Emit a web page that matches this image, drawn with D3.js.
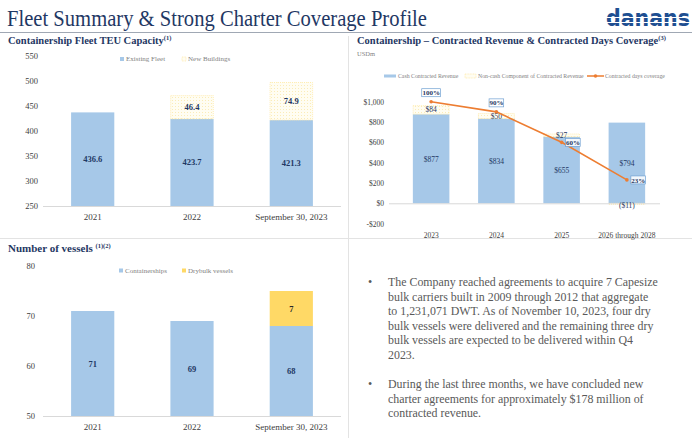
<!DOCTYPE html>
<html>
<head>
<meta charset="utf-8">
<script src="https://cdn.jsdelivr.net/npm/d3@7/dist/d3.min.js"></script>
<style>
  html, body { margin: 0; padding: 0; background: #ffffff; }
  svg { display: block; }
  text { font-family: "Liberation Serif", "DejaVu Serif", serif; }
</style>
</head>
<body>
<svg id="chart" width="700" height="438"></svg>
<script>
// ---------------- DATA ----------------
const teuCategories = ["2021", "2022", "September 30, 2023"];
const existingFleet = [436.6, 423.7, 421.3];
const newBuildings = [0, 46.4, 74.9];
const teuTicks = [250, 300, 350, 400, 450, 500, 550];

const revCategories = ["2023", "2024", "2025", "2026 through 2028"];
const cashRevenue = [877, 834, 655, 794];
const nonCashRevenue = [84, 50, 27, -11];
const daysCoverage = [100, 90, 60, 23];
const revTicks = [-200, 0, 200, 400, 600, 800, 1000];

const vesselCategories = ["2021", "2022", "September 30, 2023"];
const containerships = [71, 69, 68];
const drybulk = [0, 0, 7];
const vesselTicks = [50, 60, 70, 80];

const bullets = [
  ["The Company reached agreements to acquire 7 Capesize",
   "bulk carriers built in 2009 through 2012 that aggregate",
   "to 1,231,071 DWT. As of November 10, 2023, four dry",
   "bulk vessels were delivered and the remaining three dry",
   "bulk vessels are expected to be delivered within Q4",
   "2023."],
  ["During the last three months, we have concluded new",
   "charter agreements for approximately $178 million of",
   "contracted revenue."]
];

// ---------------- STYLE ----------------
const NAVY = "#1f3864";
const BLUE = "#a6c8e8";
const YELLOW = "#ffd966";
const ORANGE = "#ed7d31";
const GRID = "#d9d9d9";
const LABEL = "#404040";

const svg = d3.select("#chart");

const defs = svg.append("defs");
const pat = defs.append("pattern").attr("id", "dots").attr("patternUnits", "userSpaceOnUse")
  .attr("width", 3).attr("height", 3);
pat.append("rect").attr("width", 3).attr("height", 3).attr("fill", "#fffdf2");
pat.append("rect").attr("x", 1).attr("y", 1).attr("width", 1).attr("height", 1).attr("fill", "#fbecb8");

// striped logo gradient
const lgGrad = defs.append("linearGradient").attr("id", "logoStripes")
  .attr("gradientUnits", "userSpaceOnUse").attr("x1", 0).attr("x2", 0).attr("y1", 6).attr("y2", 28);
[[0, "#1f4e91"], [0.5, "#1f4e91"], [0.5, "#ffffff"], [0.56, "#ffffff"], [0.56, "#1f4e91"],
 [0.72, "#1f4e91"], [0.72, "#ffffff"], [0.76, "#ffffff"], [0.76, "#1f4e91"], [1, "#1f4e91"]]
  .forEach(s => lgGrad.append("stop").attr("offset", s[0]).attr("stop-color", s[1]));

// ---------------- HEADER ----------------
svg.append("text").attr("x", 7).attr("y", 26)
  .attr("font-size", 23).attr("fill", NAVY)
  .attr("textLength", 420).attr("lengthAdjust", "spacingAndGlyphs")
  .text("Fleet Summary & Strong Charter Coverage Profile");

svg.append("line").attr("x1", 0).attr("x2", 692).attr("y1", 32.5).attr("y2", 32.5)
  .attr("stroke", "#a0a8b4").attr("stroke-width", 1);

svg.append("text").attr("x", 606).attr("y", 26)
  .style("font-family", "'DejaVu Sans'").attr("font-weight", "bold")
  .attr("font-size", 23).attr("fill", "url(#logoStripes)")
  .attr("textLength", 84).attr("lengthAdjust", "spacingAndGlyphs")
  .text("danans");

// separators
svg.append("line").attr("x1", 348.5).attr("x2", 348.5).attr("y1", 36).attr("y2", 438)
  .attr("stroke", "#e3e3e3");
svg.append("line").attr("x1", 0).attr("x2", 692).attr("y1", 238.5).attr("y2", 238.5)
  .attr("stroke", "#e3e3e3");

function panelTitle(x, y, txt, sup, size) {
  const t = svg.append("text").attr("x", x).attr("y", y)
    .attr("font-size", size || 10.5).attr("font-weight", "bold").attr("fill", NAVY);
  t.append("tspan").text(txt);
  t.append("tspan").attr("font-size", 6.5).attr("dy", -4).text(sup);
}

function legendItem(g, x, y, kind, label, fontSize) {
  if (kind === "line") {
    g.append("line").attr("x1", x).attr("x2", x + 17).attr("y1", y).attr("y2", y)
      .attr("stroke", ORANGE).attr("stroke-width", 1.5);
    g.append("circle").attr("cx", x + 8.5).attr("cy", y).attr("r", 1.8).attr("fill", ORANGE);
    g.append("text").attr("x", x + 18).attr("y", y + fontSize * 0.35)
      .attr("font-size", fontSize).attr("fill", "#7f7f7f").text(label);
    return;
  }
  const w = kind.w, h = kind.h;
  g.append("rect").attr("x", x).attr("y", y - h / 2).attr("width", w).attr("height", h)
    .attr("fill", kind.fill).attr("stroke", kind.stroke || "none")
    .attr("stroke-dasharray", kind.dash || null).attr("stroke-width", 0.6);
  g.append("text").attr("x", x + w + 2).attr("y", y + fontSize * 0.35)
    .attr("font-size", fontSize).attr("fill", "#7f7f7f").text(label);
}

function styleAxis(g) {
  g.select(".domain").remove();
  g.selectAll(".tick line").remove();
  g.selectAll("text").attr("font-family", "Liberation Serif").attr("fill", LABEL);
}

// ---------------- CHART 1: TEU ----------------
panelTitle(8, 44, "Containership Fleet TEU Capacity", "(1)");
{
  const x = d3.scaleBand().domain(teuCategories).range([43, 341]).paddingInner(0.565).paddingOuter(0.283);
  const y = d3.scaleLinear().domain([250, 550]).range([206, 55.5]);
  const g = svg.append("g");

  g.append("g").attr("transform", "translate(38,0)")
    .call(d3.axisLeft(y).tickValues(teuTicks).tickSize(0).tickPadding(0))
    .call(styleAxis).selectAll("text").attr("font-size", 8.5);

  g.selectAll(".ex").data(existingFleet).join("rect")
    .attr("x", (d, i) => x(teuCategories[i])).attr("width", x.bandwidth())
    .attr("y", d => y(d)).attr("height", d => y(250) - y(d)).attr("fill", BLUE);

  newBuildings.forEach((d, i) => {
    if (d <= 0) return;
    g.append("rect")
      .attr("x", x(teuCategories[i]) + 0.3).attr("width", x.bandwidth() - 0.6)
      .attr("y", y(existingFleet[i] + d))
      .attr("height", y(existingFleet[i]) - y(existingFleet[i] + d))
      .attr("fill", "url(#dots)").attr("stroke", "#ffe699").attr("stroke-width", 0.7)
      .attr("stroke-dasharray", "1,1");
    g.append("text")
      .attr("x", x(teuCategories[i]) + x.bandwidth() / 2)
      .attr("y", (y(existingFleet[i]) + y(existingFleet[i] + d)) / 2 + 3)
      .attr("text-anchor", "middle").attr("font-size", 8.5).attr("font-weight", "bold").attr("fill", NAVY)
      .text(d.toFixed(1));
  });

  g.selectAll(".exl").data(existingFleet).join("text")
    .attr("x", (d, i) => x(teuCategories[i]) + x.bandwidth() / 2)
    .attr("y", d => (y(d) + y(250)) / 2 + 3)
    .attr("text-anchor", "middle").attr("font-size", 8.5).attr("font-weight", "bold").attr("fill", NAVY)
    .text(d => d.toFixed(1));

  const ax = g.append("g").attr("transform", "translate(0,206)")
    .call(d3.axisBottom(x).tickSize(0).tickPadding(8));
  ax.select(".domain").attr("stroke", GRID).attr("d", "M0,0.5H298").attr("transform", "translate(43,0)");
  ax.selectAll("text").attr("font-family", "Liberation Serif").attr("font-size", 9).attr("fill", LABEL);

  const lg = svg.append("g");
  legendItem(lg, 120, 59, { w: 4, h: 4, fill: BLUE }, "Existing Fleet", 7);
  legendItem(lg, 182, 59, { w: 4, h: 4, fill: "#fffdf2", stroke: "#ffe699", dash: "1,0.6" }, "New Buildings", 7);
}

// ---------------- CHART 2: Revenue ----------------
panelTitle(357, 44, "Containership \u2013 Contracted Revenue & Contracted Days Coverage", "(3)");
svg.append("text").attr("x", 357).attr("y", 56).attr("font-size", 6.5).attr("fill", "#7f7f7f").text("USDm");
{
  const x = d3.scaleBand().domain(revCategories).range([398.5, 659.5]).paddingInner(0.44).paddingOuter(0.22);
  const y = d3.scaleLinear().domain([-200, 1000]).range([223.6, 101.7]);
  const yPct = d3.scaleLinear().domain([0, 100]).range([y(0), y(1000)]);
  const g = svg.append("g");

  g.append("g").attr("transform", "translate(384,0)")
    .call(d3.axisLeft(y).tickValues(revTicks).tickSize(0).tickPadding(0)
      .tickFormat(d => (d < 0 ? "-$" : "$") + d3.format(",")(Math.abs(d))))
    .call(styleAxis).selectAll("text").attr("font-size", 7.5);

  const cx = i => x(revCategories[i]) + x.bandwidth() / 2;

  g.selectAll(".cash").data(cashRevenue).join("rect")
    .attr("x", (d, i) => x(revCategories[i])).attr("width", x.bandwidth())
    .attr("y", d => y(d)).attr("height", d => y(0) - y(d)).attr("fill", BLUE);

  nonCashRevenue.forEach((d, i) => {
    const y0 = d >= 0 ? y(cashRevenue[i] + d) : y(0);
    const y1 = d >= 0 ? y(cashRevenue[i]) : y(d);
    g.append("rect").attr("x", x(revCategories[i]) + 0.3).attr("width", x.bandwidth() - 0.6)
      .attr("y", y0).attr("height", y1 - y0)
      .attr("fill", "url(#dots)").attr("stroke", "#ffe699").attr("stroke-width", 0.7)
      .attr("stroke-dasharray", "1,1");
  });

  g.append("line").attr("x1", 389).attr("x2", 660).attr("y1", y(0) + 0.5).attr("y2", y(0) + 0.5)
    .attr("stroke", GRID);

  g.selectAll(".cashl").data(cashRevenue).join("text")
    .attr("x", (d, i) => cx(i)).attr("y", d => (y(d) + y(0)) / 2 + 3)
    .attr("text-anchor", "middle").attr("font-size", 7.5).attr("fill", NAVY)
    .text(d => "$" + d);

  nonCashRevenue.forEach((d, i) => {
    const mid = d >= 0 ? (y(cashRevenue[i] + d) + y(cashRevenue[i])) / 2 + 2.5 : y(0) + 5;
    g.append("text").attr("x", cx(i)).attr("y", mid)
      .attr("text-anchor", "middle").attr("font-size", 7.5).attr("fill", NAVY)
      .text(d >= 0 ? "$" + d : "($" + Math.abs(d) + ")");
  });

  const line = d3.line().x((d, i) => cx(i)).y(d => yPct(d));
  g.append("path").datum(daysCoverage).attr("d", line)
    .attr("fill", "none").attr("stroke", ORANGE).attr("stroke-width", 1.6);
  g.selectAll(".pt").data(daysCoverage).join("circle")
    .attr("cx", (d, i) => cx(i)).attr("cy", d => yPct(d)).attr("r", 1.8).attr("fill", ORANGE);

  const labelPlacement = ["top", "top", "right", "right"];
  daysCoverage.forEach((d, i) => {
    const txt = d + "%";
    const w = txt.length * 4.2 + 2, h = 8;
    let lx = cx(i), ly = yPct(d);
    if (labelPlacement[i] === "top") { ly = ly - 9; }
    else { lx = lx + w / 2 + 4; }
    g.append("rect").attr("x", lx - w / 2).attr("y", ly - h / 2).attr("width", w).attr("height", h)
      .attr("fill", "#ffffff").attr("fill-opacity", 0.85).attr("stroke", "#6fa0d2").attr("stroke-width", 0.7);
    g.append("text").attr("x", lx).attr("y", ly + 2.6).attr("text-anchor", "middle")
      .attr("font-size", 7).attr("font-weight", "bold").attr("fill", NAVY).text(txt);
  });

  const ax = g.append("g").attr("transform", "translate(0,224)")
    .call(d3.axisBottom(x).tickSize(0).tickPadding(9));
  ax.select(".domain").remove();
  ax.selectAll("text").attr("font-family", "Liberation Serif").attr("font-size", 7.5).attr("fill", LABEL);

  const lg = svg.append("g");
  legendItem(lg, 384, 76, { w: 12, h: 3, fill: BLUE }, "Cash Contracted Revenue", 5.8);
  legendItem(lg, 465, 76, { w: 11, h: 4, fill: "#fffdf2", stroke: "#ffe699", dash: "1,0.6" }, "Non-cash Component of Contracted Revenue", 5.8);
  legendItem(lg, 587, 76, "line", "Contracted days coverage", 5.8);
}

// ---------------- CHART 3: Vessels ----------------
panelTitle(8, 252, "Number of vessels ", "(1)(2)", 11);
{
  const x = d3.scaleBand().domain(vesselCategories).range([43, 341]).paddingInner(0.565).paddingOuter(0.283);
  const y = d3.scaleLinear().domain([50, 80]).range([416, 266]);
  const g = svg.append("g");

  g.append("g").attr("transform", "translate(35,0)")
    .call(d3.axisLeft(y).tickValues(vesselTicks).tickSize(0).tickPadding(0))
    .call(styleAxis).selectAll("text").attr("font-size", 8.5);

  g.selectAll(".cs").data(containerships).join("rect")
    .attr("x", (d, i) => x(vesselCategories[i])).attr("width", x.bandwidth())
    .attr("y", d => y(d)).attr("height", d => y(50) - y(d)).attr("fill", BLUE);

  drybulk.forEach((d, i) => {
    if (d <= 0) return;
    g.append("rect").attr("x", x(vesselCategories[i])).attr("width", x.bandwidth())
      .attr("y", y(containerships[i] + d)).attr("height", y(containerships[i]) - y(containerships[i] + d))
      .attr("fill", YELLOW);
    g.append("text").attr("x", x(vesselCategories[i]) + x.bandwidth() / 2)
      .attr("y", (y(containerships[i] + d) + y(containerships[i])) / 2 + 3)
      .attr("text-anchor", "middle").attr("font-size", 8.5).attr("font-weight", "bold").attr("fill", "#262626")
      .text(d);
  });

  g.selectAll(".csl").data(containerships).join("text")
    .attr("x", (d, i) => x(vesselCategories[i]) + x.bandwidth() / 2)
    .attr("y", d => (y(d) + y(50)) / 2 + 3)
    .attr("text-anchor", "middle").attr("font-size", 8.5).attr("font-weight", "bold").attr("fill", NAVY)
    .text(d => d);

  const ax = g.append("g").attr("transform", "translate(0,416)")
    .call(d3.axisBottom(x).tickSize(0).tickPadding(8));
  ax.select(".domain").attr("stroke", GRID).attr("d", "M0,0.5H298").attr("transform", "translate(43,0)");
  ax.selectAll("text").attr("font-family", "Liberation Serif").attr("font-size", 9).attr("fill", LABEL);

  const lg = svg.append("g");
  legendItem(lg, 119, 270.5, { w: 4, h: 4, fill: BLUE }, "Containerships", 7);
  legendItem(lg, 182, 270.5, { w: 4, h: 4, fill: YELLOW }, "Drybulk vessels", 7);
}

// ---------------- BULLETS ----------------
{
  const g = svg.append("g");
  const lineH = 14.5;
  const starts = [286, 388];
  bullets.forEach((para, p) => {
    g.append("text").attr("x", 368).attr("y", starts[p]).attr("font-size", 12).attr("fill", "#595959").text("\u2022");
    para.forEach((ln, j) => {
      g.append("text").attr("x", 388).attr("y", starts[p] + j * lineH)
        .attr("font-size", 11.9).attr("fill", "#595959").text(ln);
    });
  });
}
</script>
</body>
</html>
